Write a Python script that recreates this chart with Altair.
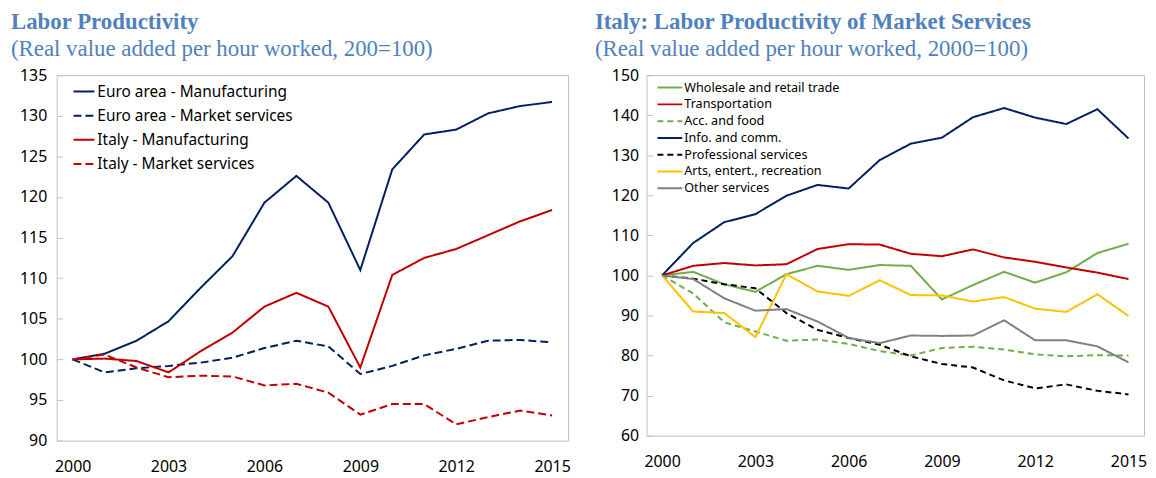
import altair as alt
import pandas as pd

years = list(range(2000, 2016))

# Left panel
left_series = ["Euro area - Manufacturing", "Euro area - Market services",
               "Italy - Manufacturing", "Italy - Market services"]
ea_manuf = [100, 100.7, 102.3, 104.7, 108.8, 112.7, 119.3, 122.6, 119.3, 111.0, 123.4, 127.7, 128.3, 130.3, 131.2, 131.7]
ea_serv = [100, 98.4, 98.9, 99.2, 99.6, 100.2, 101.4, 102.3, 101.6, 98.2, 99.2, 100.5, 101.3, 102.3, 102.4, 102.1]
it_manuf = [100, 100.1, 99.8, 98.4, 101.0, 103.3, 106.5, 108.2, 106.5, 99.0, 110.4, 112.5, 113.6, 115.3, 117.0, 118.4]
it_serv = [100, 100.6, 99.0, 97.8, 98.0, 97.9, 96.8, 97.0, 95.9, 93.2, 94.5, 94.5, 92.0, 92.9, 93.7, 93.1]
left_colors = ["#002060", "#002060", "#C00000", "#C00000"]
left_dash = [[1, 0], [8, 4], [1, 0], [8, 4]]

# Right panel
right_series = ["Wholesale and retail trade", "Transportation", "Acc. and food",
                "Info. and comm.", "Professional services", "Arts, entert., recreation",
                "Other services"]
wholesale = [100, 100.9, 97.8, 95.9, 100.3, 102.4, 101.4, 102.6, 102.4, 94.0, 97.6, 100.9, 98.2, 100.8, 105.6, 107.9]
transport = [100, 102.4, 103.1, 102.5, 102.8, 106.6, 107.8, 107.7, 105.4, 104.8, 106.5, 104.5, 103.4, 102.0, 100.7, 99.1]
acc_food = [100, 95.5, 88.3, 86.0, 83.7, 84.0, 82.9, 81.1, 80.0, 81.9, 82.2, 81.5, 80.3, 79.8, 80.1, 80.0]
info = [100, 108.1, 113.3, 115.3, 119.9, 122.6, 121.7, 128.8, 132.9, 134.4, 139.5, 141.8, 139.4, 137.8, 141.5, 134.2]
prof = [100, 99.2, 97.8, 96.8, 90.6, 86.4, 84.4, 82.7, 79.8, 77.9, 77.0, 73.8, 71.8, 72.8, 71.2, 70.3]
arts = [100, 91.0, 90.6, 84.6, 100.3, 96.0, 94.9, 98.8, 95.1, 95.0, 93.5, 94.6, 91.7, 90.9, 95.3, 89.9]
other = [100, 99.1, 94.3, 91.2, 91.6, 88.5, 84.4, 83.1, 85.0, 84.9, 85.0, 88.8, 83.8, 83.8, 82.3, 78.3]
right_colors = ["#70AD47", "#C00000", "#70AD47", "#002060", "#000000", "#FFC000", "#808080"]
right_dash = [[1, 0], [1, 0], [6, 4], [1, 0], [6, 4], [1, 0], [1, 0]]

left_y_ticks = [90, 95, 100, 105, 110, 115, 120, 125, 130, 135]
right_y_ticks = [60, 70, 80, 90, 100, 110, 120, 130, 140, 150]
x_values = [2000 + i * 0.5 for i in range(31)]

TITLE_COLOR = "#4F81BD"
FRAME = "#BFBFBF"
FONT = "Noto Sans"


def long_df(names, arrays):
    rows = []
    for n, arr in zip(names, arrays):
        for y, v in zip(years, arr):
            rows.append({"year": y, "value": v, "series": n})
    return pd.DataFrame(rows)


def x_axis():
    return alt.Axis(
        values=x_values, format="d",
        labelExpr="datum.value % 1 === 0 && (datum.value - 2000) % 3 === 0 ? datum.label : ''",
        tickOpacity={"condition": {"test": "datum.value % 1 !== 0", "value": 1}, "value": 0},
        tickSize=6, offset=-6, domain=False, grid=False, labelPadding=18,
        labelOverlap=False, labelFont=FONT, labelFontSize=16, labelColor="#000000",
        tickColor=FRAME, title=None,
    )


def y_axis(ticks, pad):
    return alt.Axis(
        values=ticks, tickSize=6, offset=-6, domain=False, grid=False,
        labelPadding=pad, labelFont=FONT, labelFontSize=16, labelColor="#000000",
        tickColor=FRAME, title=None,
    )


def panel(df, names, colors, dashes, ydom, yticks, width, height, title, subtitle,
          dx, legend, ypad):
    return alt.Chart(df).mark_line(strokeWidth=2).encode(
        x=alt.X("year:Q", scale=alt.Scale(domain=[1999.5, 2015.5], nice=False, zero=False),
                axis=x_axis()),
        y=alt.Y("value:Q", scale=alt.Scale(domain=ydom, nice=False, zero=False),
                axis=y_axis(yticks, ypad)),
        color=alt.Color("series:N", scale=alt.Scale(domain=names, range=colors), legend=legend),
        strokeDash=alt.StrokeDash("series:N", scale=alt.Scale(domain=names, range=dashes),
                                  legend=legend),
    ).properties(
        width=width, height=height,
        title=alt.TitleParams(
            text=title, subtitle=subtitle, anchor="start", frame="group", dx=dx,
            font="Liberation Serif", fontSize=23, fontWeight="bold", color=TITLE_COLOR,
            subtitleFont="Liberation Serif", subtitleFontSize=23, subtitleColor=TITLE_COLOR,
            subtitleFontWeight="normal", subtitlePadding=5, offset=6,
        ),
    )


left_legend = alt.Legend(
    title=None, orient="none", legendX=16, legendY=5, symbolType="stroke",
    symbolSize=441, symbolStrokeWidth=2, labelFont=FONT, labelFontSize=15.5,
    labelColor="#000000", labelOffset=2, rowPadding=4.3, padding=0, labelLimit=0,
)
right_legend = alt.Legend(
    title=None, orient="none", legendX=16, legendY=5, symbolType="M-2,0L2,0",
    symbolSize=156, symbolStrokeWidth=2, labelFont=FONT, labelFontSize=12.7,
    labelColor="#000000", labelOffset=7, rowPadding=1.9, padding=0, labelLimit=0,
)

left = panel(long_df(left_series, [ea_manuf, ea_serv, it_manuf, it_serv]),
             left_series, left_colors, left_dash, [90, 135], left_y_ticks, 515, 368,
             "Labor Productivity", "(Real value added per hour worked, 200=100)",
             -46, left_legend, 10)
right = panel(long_df(right_series, [wholesale, transport, acc_food, info, prof, arts, other]),
              right_series, right_colors, right_dash, [60, 150], right_y_ticks, 501, 363,
              "Italy: Labor Productivity of Market Services",
              "(Real value added per hour worked, 2000=100)",
              -52, right_legend, 8)

chart = alt.hconcat(left, right, spacing=23).resolve_scale(
    color="independent", strokeDash="independent", y="independent"
).configure(
    padding={"left": 2, "top": 0, "right": 0, "bottom": 0},
).configure_view(stroke=FRAME, strokeWidth=1)

chart.save("out.html", embed_options={"renderer": "svg", "actions": False})
